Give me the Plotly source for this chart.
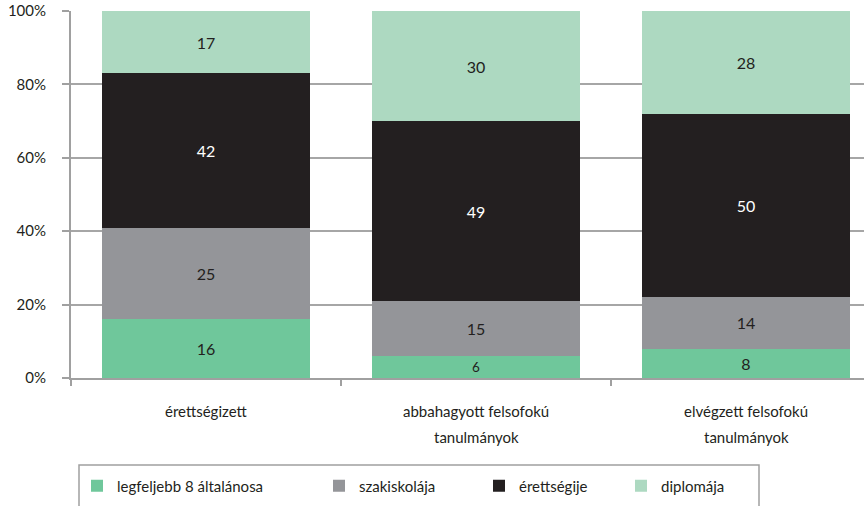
import plotly.graph_objects as go

categories = ["érettségizett", "abbahagyott felsofokú tanulmányok", "elvégzett felsofokú tanulmányok"]
cat_line1 = ["érettségizett", "abbahagyott felsofokú", "elvégzett felsofokú"]
cat_line2 = ["", "tanulmányok", "tanulmányok"]

series_names = ["legfeljebb 8 általánosa", "szakiskolája", "érettségije", "diplomája"]
legfeljebb8 = [16, 6, 8]
szakiskola = [25, 15, 14]
erettsegi = [42, 49, 50]
diploma = [17, 30, 28]
series_values = [legfeljebb8, szakiskola, erettsegi, diploma]

colors = ["#6FC79B", "#949599", "#231F20", "#ADD9C1"]
text_colors = ["#231F20", "#231F20", "#FFFFFF", "#231F20"]

y_ticks = [0, 20, 40, 60, 80, 100]

FONT = "Lato"
W, H = 864, 506
ML, MR, MT, MB = 71, 0, 11, 128
PW = W - ML - MR
PH = H - MT - MB

def px_x(px):
    return (px - ML) / PW

def px_y(py):
    return (H - MB - py) / PH

fig = go.Figure()
legend_text_x = [116, 358, 518, 660]
legend_ids = ["legend", "legend2", "legend3", "legend4"]
for i, (name, vals) in enumerate(zip(series_names, series_values)):
    fig.add_trace(go.Bar(
        x=categories, y=vals, name=name,
        marker=dict(color=colors[i], line=dict(width=0)),
        text=vals, texttemplate="%{y}",
        textposition="inside", insidetextanchor="middle", textangle=0,
        insidetextfont=dict(color=text_colors[i], size=16, family=FONT),
        legend=legend_ids[i],
    ))

legend_common = dict(
    orientation="h", yanchor="middle", xanchor="left",
    font=dict(size=15, family=FONT, color="#231F20"),
    bgcolor="rgba(0,0,0,0)", borderwidth=0,
)
layout_legends = {}
for i, lid in enumerate(legend_ids):
    layout_legends[lid] = dict(legend_common, x=px_x(legend_text_x[i] - 39), y=px_y(486))

fig.update_layout(
    width=W, height=H,
    margin=dict(l=ML, r=MR, t=MT, b=MB, pad=0),
    barmode="stack", bargap=0.226,
    plot_bgcolor="white", paper_bgcolor="white",
    font=dict(family=FONT, size=15, color="#231F20"),
    showlegend=True,
    **layout_legends,
)
fig.update_xaxes(
    type="category", range=[-0.5, -0.5 + PW / 270.0],
    showticklabels=False, tickson="boundaries", ticks="outside", ticklen=6,
    tickcolor="#A0A0A0", tickwidth=2,
    showline=True, linecolor="#A0A0A0", linewidth=2, showgrid=False,
)
fig.update_yaxes(
    range=[0, 100], tickvals=y_ticks, ticktext=[f"{v}%" for v in y_ticks],
    ticks="outside", ticklen=7, tickcolor="#A0A0A0", tickwidth=2,
    ticklabelstandoff=13,
    showline=True, linecolor="#A0A0A0", linewidth=2,
    showgrid=True, gridcolor="#A6A6A6", gridwidth=1.5, zeroline=False,
    tickfont=dict(size=15, family=FONT, color="#231F20"),
)

for i in range(len(categories)):
    fig.add_annotation(x=categories[i], xref="x", yref="paper", y=0, yshift=-33,
                       text=cat_line1[i], showarrow=False, yanchor="middle",
                       font=dict(size=15, family=FONT, color="#231F20"))
    if cat_line2[i]:
        fig.add_annotation(x=categories[i], xref="x", yref="paper", y=0, yshift=-59,
                           text=cat_line2[i], showarrow=False, yanchor="middle",
                           font=dict(size=15, family=FONT, color="#231F20"))

fig.add_shape(type="rect", xref="paper", yref="paper",
              x0=px_x(79), x1=px_x(759), y0=px_y(530), y1=px_y(465),
              line=dict(color="#A0A0A0", width=1.5), fillcolor="rgba(0,0,0,0)", layer="above")

fig.write_html("out.html", config={"displayModeBar": False},
               post_script="document.body.style.margin='0px';document.body.style.overflow='hidden';")
